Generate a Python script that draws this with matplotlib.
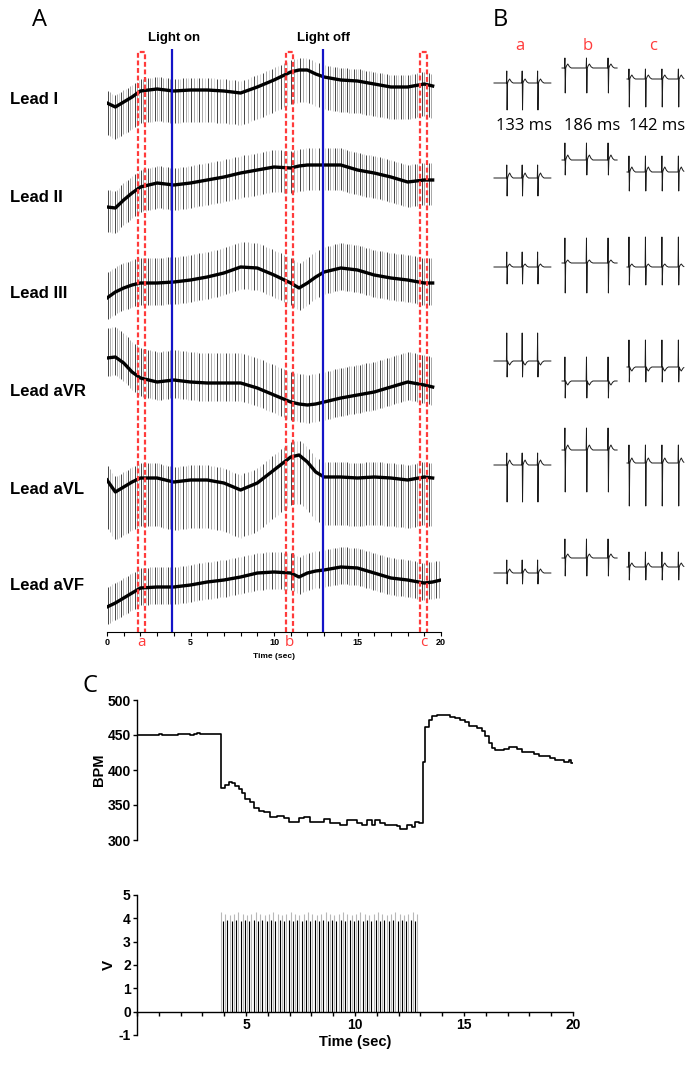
import numpy as np
import matplotlib.pyplot as plt
from matplotlib.ticker import MultipleLocator

plt.rcParams['font.family'] = ['Liberation Sans', 'DejaVu Sans']
plt.rcParams['axes.unicode_minus'] = False

# heart rate, step series (start time of each step in s, value in BPM)
bpm_t = [0, 1.0, 1.15, 1.9, 2.2, 2.45, 2.6, 2.75, 2.9, 3.1,
         3.87, 4.05, 4.20, 4.36, 4.51, 4.66, 4.82, 4.97, 5.20, 5.35,
         5.58, 5.81, 6.12, 6.42, 6.73, 6.96, 7.42, 7.65, 7.95, 8.56,
         8.87, 9.33, 9.63, 10.09, 10.32, 10.55, 10.78, 10.93, 11.16, 11.39,
         11.93, 12.08, 12.39, 12.61, 12.77, 12.92, 13.10, 13.23, 13.38, 13.53,
         13.76, 14.37, 14.60, 14.83, 15.06, 15.21, 15.60, 15.83, 15.98, 16.13,
         16.28, 16.44, 16.82, 17.05, 17.43, 17.66, 18.20, 18.43, 18.96, 19.19,
         19.57, 19.80, 19.92]
bpm_v = [450, 452, 450, 451, 452, 450, 452, 453, 451, 452,
         375, 378, 383, 381, 377, 373, 367, 359, 354, 346,
         341, 340, 333, 334, 332, 326, 331, 333, 326, 330,
         325, 321, 329, 325, 322, 328, 322, 328, 324, 322,
         320, 316, 321, 319, 326, 325, 411, 462, 471, 477,
         479, 476, 474, 471, 468, 463, 460, 456, 448, 438,
         432, 428, 430, 433, 430, 426, 423, 420, 417, 415,
         412, 414, 410]

# light stimulation
light_on, light_off = 3.9, 12.95
pulse_start, pulse_stop, pulse_step = 3.85, 12.9, 0.1
pulse_heights = [4.28, 3.9, 4.2, 3.95, 4.15, 3.88, 4.18, 3.92]

# ECG leads: slow baseline drift (arbitrary units) and spike sizes
leads = ['Lead I', 'Lead II', 'Lead III', 'Lead aVR', 'Lead aVL', 'Lead aVF']
knots = [0, 0.5, 1, 1.5, 2, 3, 4, 5, 6, 7, 8, 9, 10, 11, 11.5, 12, 12.5,
         13, 14, 15, 16, 17, 18, 19, 19.5, 20]
drift_I = [-3, -7, -2, 3, 9, 11, 9, 10, 10, 9, 7, 13, 20, 28, 30, 30, 26, 23, 20, 19, 16, 13, 13, 16, 14, 14]
drift_II = [-10, -11, -3, 4, 10, 14, 12, 14, 17, 20, 24, 27, 30, 29, 31, 32, 32, 32, 32, 27, 24, 20, 15, 17, 17, 17]
drift_III = [-4, 2, 6, 9, 11, 11, 12, 14, 17, 21, 27, 26, 19, 11, 6, 11, 17, 22, 26, 24, 19, 16, 14, 11, 11, 11]
drift_aVR = [34, 35, 29, 20, 14, 10, 12, 10, 9, 9, 9, 4, -3, -10, -12, -13, -12, -10, -6, -3, 0, 5, 10, 7, 5, 5]
drift_aVL = [9, -3, 2, 7, 11, 11, 7, 9, 9, 6, -1, 6, 19, 32, 34, 27, 17, 12, 12, 11, 12, 11, 9, 12, 11, 11]
drift_aVF = [-22, -18, -13, -8, -3, -2, -2, 0, 3, 5, 8, 12, 13, 12, 8, 12, 14, 15, 18, 17, 12, 7, 5, 2, 3, 5]
drifts = [drift_I, drift_II, drift_III, drift_aVR, drift_aVL, drift_aVF]
lead_up = [12, 17, 25, 30, 15, 20]
lead_down = [32, 25, 22, 18, 48, 17]
lead_end = [19.5, 19.5, 19.5, 19.5, 19.5, 20]

# sampled windows a, b, c
frame_names = ['a', 'b', 'c']
frame_t = [(1.86, 2.28), (10.72, 11.14), (18.74, 19.16)]
snip_rr = [0.133, 0.186, 0.142]
snip_first = [0.11, 0.025, 0.017]
snip_n = [3, 3, 4]
snip_len = [0.49, 0.475, 0.49]
snip_level = [[-5, 10, -1], [-8, 10, -2], [-1, 3, -1], [9, -11, 3], [-5, 10, -3], [-7, 8, -1]]
snip_up = [[12, 10, 10], [13, 17, 16], [15, 25, 30], [28, 24, 27], [12, 22, 18], [13, 19, 15]]
snip_down = [[27, 25, 28], [18, 15, 19], [17, 30, 18], [16, 17, 15], [37, 42, 43], [11, 18, 13]]
snip_twave = [4, 5, 3, -4, 5, 4]

# layout (pixels of a 700 x 1068 figure)
W, H = 700, 1068
lead_rows = [100, 197, 294, 392, 489, 585]
b_rows = [78, 170, 266, 370, 460, 566]
b_cols = [494, 562, 627]
red = '#ff3b3b'
blue = '#1414c8'


def bpm_at(t):
    i = np.searchsorted(bpm_t, t, side='right') - 1
    return bpm_v[i]


beat_times = []
t = 0.05
while t < 20:
    beat_times.append(t)
    t += 60.0 / bpm_at(t)
beat_times = np.array(beat_times)

fig = plt.figure(figsize=(7, 10.68), dpi=100)

# ---------------- panel A ----------------
axA = fig.add_axes([107 / W, 1 - 632 / H, 334 / W, 602 / H])
axA.set_xlim(0, 20)
axA.set_ylim(0, 602)
shades = ['0.15', '0.6', '0.82']
for k, name in enumerate(leads):
    y0 = 632 - lead_rows[k]
    base = y0 + np.array(drifts[k])
    bt = beat_times[beat_times < lead_end[k]]
    yb = np.interp(bt, knots, base)
    cols = [shades[i % 3] for i in range(len(bt))]
    axA.vlines(bt, yb - lead_down[k], yb + lead_up[k], colors=cols, lw=0.6)
    m = np.array(knots) <= lead_end[k]
    axA.plot(np.array(knots)[m], base[m], color='black', lw=2.4)
    fig.text(10 / W, 1 - lead_rows[k] / H, name, fontsize=12, fontweight='bold',
             ha='left', va='center')

axA.vlines([light_on, light_off], 0, 583, color=blue, lw=1.6, zorder=5)
axA.text(light_on + 0.1, 594, 'Light on', ha='center', va='center', fontsize=9.5, fontweight='bold')
axA.text(light_off, 594, 'Light off', ha='center', va='center', fontsize=9.5, fontweight='bold')

for (t0, t1), nm in zip(frame_t, frame_names):
    axA.plot([t0, t0, t1, t1], [0, 580, 580, 0], color=red, lw=1.6,
             ls=(0, (2.2, 1.2)), solid_joinstyle='round', dash_joinstyle='round', zorder=6)
    axA.text((t0 + t1) / 2, -11, nm, color=red, fontsize=11, family='Open Sans',
             ha='center', va='center')

for s in ['top', 'right', 'left']:
    axA.spines[s].set_visible(False)
axA.spines['bottom'].set_linewidth(0.8)
axA.set_yticks([])
axA.xaxis.set_major_locator(MultipleLocator(5))
axA.xaxis.set_minor_locator(MultipleLocator(1))
axA.tick_params(axis='x', which='both', direction='out', length=3, width=0.8,
                labelsize=6.5, pad=1.5)
for lab in axA.get_xticklabels():
    lab.set_fontweight('bold')
axA.set_xlabel('Time (sec)', fontsize=6, fontweight='bold', labelpad=4)

# ---------------- panel B ----------------
px_per_s = 116.0
axB = fig.add_axes([490 / W, 1 - 632 / H, 200 / W, 602 / H])
axB.set_xlim(0, 200 / px_per_s)
axB.set_ylim(0, 602)
axB.axis('off')
for c in range(3):
    xc = (b_cols[c] - 490) / px_per_s
    fig.text((b_cols[c] + 26) / W, 1 - 46 / H, frame_names[c], color=red, fontsize=12,
             family='Open Sans', ha='center', va='center')
    fig.text((b_cols[c] + 30) / W, 1 - 126 / H, f'{int(round(snip_rr[c] * 1000))} ms',
             fontsize=12, family='Open Sans', ha='center', va='center')
    for r in range(6):
        y0 = 632 - b_rows[r] + snip_level[r][c]
        U, D, T = snip_up[r][c], snip_down[r][c], snip_twave[r]
        xs, ys = [0.0], [0.0]
        for n in range(snip_n[c]):
            tb = snip_first[c] + n * snip_rr[c]
            for dt, v in [(-0.003, 0), (0, U), (0.003, -D), (0.007, 0),
                          (0.015, 0.6 * T), (0.025, T), (0.04, 0.3 * T), (0.055, 0)]:
                if 0 <= tb + dt <= snip_len[c]:
                    xs.append(tb + dt)
                    ys.append(v)
        xs.append(snip_len[c])
        ys.append(ys[-1] * 0.5)
        axB.plot(xc + np.array(xs), y0 + np.array(ys), color='0.1', lw=0.7)

# panel letters
fig.text(40 / W, 1 - 20 / H, 'A', fontsize=17, family='Open Sans', ha='center', va='center')
fig.text(500 / W, 1 - 20 / H, 'B', fontsize=17, family='Open Sans', ha='center', va='center')
fig.text(90 / W, 1 - 686 / H, 'C', fontsize=17, family='Open Sans', ha='center', va='center')

# ---------------- panel C : heart rate ----------------
axC = fig.add_axes([137 / W, 1 - 840 / H, 436 / W, 140 / H])
axC.step(bpm_t + [20], bpm_v + [bpm_v[-1]], where='post', color='black', lw=1.2)
axC.set_xlim(0, 20)
axC.set_ylim(300, 500)
axC.set_yticks([300, 350, 400, 450, 500])
axC.set_xticks([])
for s in ['top', 'right', 'bottom']:
    axC.spines[s].set_visible(False)
axC.spines['left'].set_linewidth(1.0)
axC.tick_params(axis='y', direction='out', length=3, width=1.0, labelsize=10, pad=1.5)
for lab in axC.get_yticklabels():
    lab.set_fontweight('bold')
axC.set_ylabel('BPM', fontsize=10.5, fontweight='bold', labelpad=1)

# ---------------- light pulses ----------------
axV = fig.add_axes([137 / W, 1 - 1035 / H, 436 / W, 140 / H])
pulses = np.arange(pulse_start, pulse_stop + 1e-9, pulse_step)
heights = np.resize(pulse_heights, len(pulses))
pcols = ['0.72' if i % 2 == 0 else 'black' for i in range(len(pulses))]
axV.vlines(pulses, 0, heights, colors=pcols, lw=0.8)
axV.set_xlim(0, 20)
axV.set_ylim(-1, 5)
axV.set_yticks(range(-1, 6))
axV.xaxis.set_major_locator(MultipleLocator(5))
axV.xaxis.set_minor_locator(MultipleLocator(1))
axV.set_xticks([5, 10, 15, 20])
axV.spines['bottom'].set_position(('data', 0))
for s in ['top', 'right']:
    axV.spines[s].set_visible(False)
axV.spines['left'].set_linewidth(1.0)
axV.spines['bottom'].set_linewidth(1.0)
axV.tick_params(axis='both', which='both', direction='out', width=1.0, labelsize=10, pad=1.5)
axV.tick_params(axis='both', which='major', length=3)
axV.tick_params(axis='x', which='minor', length=3)
for lab in axV.get_xticklabels() + axV.get_yticklabels():
    lab.set_fontweight('bold')
axV.set_ylabel('V', fontsize=11, fontweight='bold', labelpad=2)
axV.set_xlabel('Time (sec)', fontsize=10.5, fontweight='bold', labelpad=2)

fig.savefig('out.png', dpi=100)
